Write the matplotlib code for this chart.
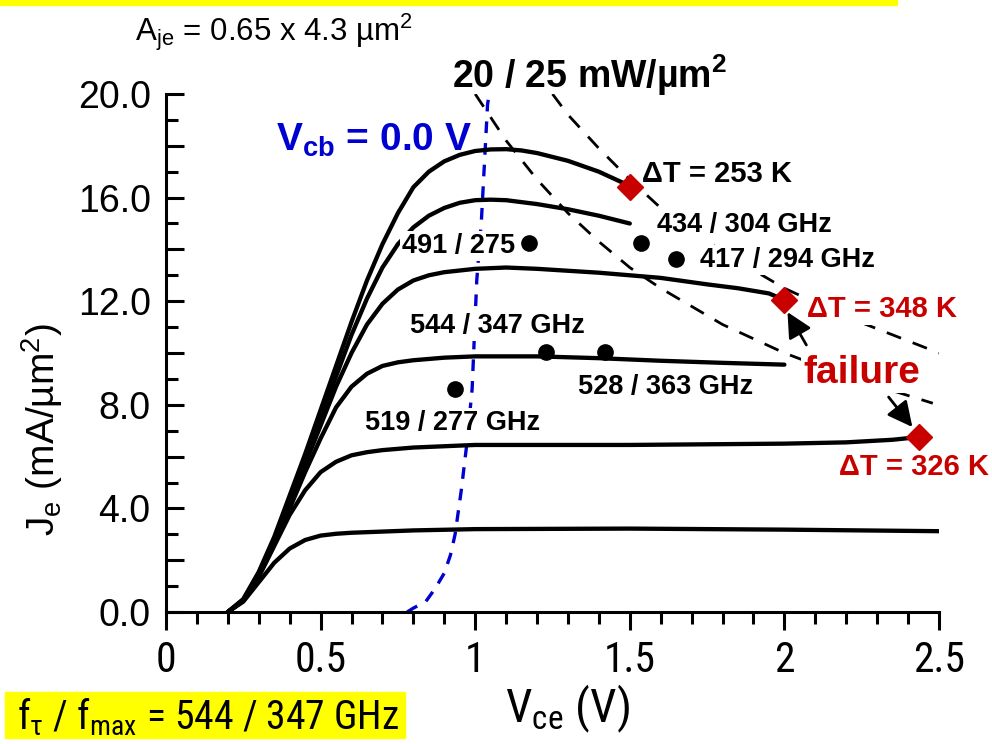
import matplotlib
matplotlib.use("Agg")
import matplotlib.pyplot as plt
from matplotlib import font_manager
from matplotlib.font_manager import FontProperties
from matplotlib.patches import Rectangle
from matplotlib.ticker import MultipleLocator, FixedLocator, FixedFormatter

# -----------------------------------
# Fonts: Arial-like plus a narrow face if one is installed
# -----------------------------------
ARIAL = "Liberation Sans"
plt.rcParams.update({
    "font.family": [ARIAL, "DejaVu Sans"],
    "mathtext.default": "regular",
})

narrow_path = None
prefs = ["Liberation Sans Narrow", "Arial Narrow", "Roboto Condensed", "Noto Sans",
         "Open Sans", "DejaVu Sans"]
cands = []
for f in font_manager.fontManager.ttflist:
    fn = f.fname.lower()
    is_narrow = ("narrow" in fn or "condensed" in fn or "narrow" in f.name.lower()
                 or "condensed" in f.name.lower() or f.stretch in ("condensed", "semi-condensed"))
    if is_narrow and "mono" not in fn and "serif" not in fn and f.style == "normal" \
            and f.weight in (400, "normal", "regular") and "light" not in fn \
            and "semi" not in fn and "extra" not in fn:
        cands.append(f)
for p in prefs:
    hit = [f for f in cands if f.name.startswith(p)]
    if hit:
        narrow_path = hit[0].fname
        break
if narrow_path is None and cands:
    narrow_path = cands[0].fname


def narrow(size):
    if narrow_path:
        return FontProperties(fname=narrow_path, size=size)
    return FontProperties(family=ARIAL, size=size * 0.85)


# -----------------------------------
# Data
# -----------------------------------
vce_1 = [0.20, 0.25, 0.30, 0.35, 0.40, 0.45, 0.50, 0.55, 0.60, 0.80, 1.00, 1.50, 2.00, 2.50]
je_1 = [0.0, 0.40, 1.15, 1.90, 2.45, 2.78, 2.95, 3.02, 3.06, 3.15, 3.20, 3.22, 3.18, 3.12]

vce_2 = [0.20, 0.25, 0.30, 0.35, 0.40, 0.45, 0.50, 0.55, 0.60, 0.65, 0.70, 0.80, 1.00, 1.50, 2.00,
         2.20, 2.35, 2.43]
je_2 = [0.0, 0.45, 1.35, 2.55, 3.75, 4.70, 5.40, 5.80, 6.05, 6.17, 6.25, 6.35, 6.45, 6.45, 6.50,
        6.55, 6.65, 6.75]

vce_3 = [0.20, 0.25, 0.30, 0.35, 0.40, 0.45, 0.50, 0.55, 0.60, 0.65, 0.70, 0.75, 0.80, 0.90, 1.00,
         1.20, 1.40, 1.60, 1.80, 2.00]
je_3 = [0.0, 0.45, 1.40, 2.60, 4.00, 5.40, 6.70, 7.90, 8.70, 9.20, 9.50, 9.64, 9.72, 9.82, 9.87,
        9.87, 9.80, 9.70, 9.62, 9.55]

vce_4 = [0.20, 0.25, 0.30, 0.35, 0.40, 0.45, 0.50, 0.55, 0.60, 0.65, 0.70, 0.75, 0.80, 0.85, 0.90,
         1.00, 1.10, 1.20, 1.40, 1.60, 1.75, 1.85, 1.95, 2.00]
je_4 = [0.0, 0.45, 1.45, 2.70, 4.20, 5.70, 7.20, 8.70, 10.0, 11.1, 11.9, 12.45, 12.8, 13.0, 13.12,
        13.25, 13.3, 13.25, 13.1, 12.9, 12.65, 12.5, 12.3, 12.05]

vce_5 = [0.20, 0.25, 0.30, 0.35, 0.40, 0.45, 0.50, 0.55, 0.60, 0.65, 0.70, 0.75, 0.80, 0.85, 0.90,
         0.95, 1.00, 1.05, 1.10, 1.20, 1.30, 1.40, 1.50]
je_5 = [0.0, 0.48, 1.50, 2.80, 4.30, 5.90, 7.50, 9.10, 10.7, 12.1, 13.3, 14.2, 14.85, 15.3, 15.6,
        15.8, 15.9, 15.92, 15.9, 15.75, 15.55, 15.3, 15.0]

vce_6 = [0.20, 0.25, 0.30, 0.35, 0.40, 0.45, 0.50, 0.55, 0.60, 0.65, 0.70, 0.75, 0.80, 0.85, 0.90,
         0.95, 1.00, 1.05, 1.10, 1.15, 1.20, 1.30, 1.40, 1.50]
je_6 = [0.0, 0.50, 1.55, 2.90, 4.50, 6.10, 7.80, 9.50, 11.2, 12.8, 14.2, 15.4, 16.4, 17.0, 17.4,
        17.65, 17.8, 17.86, 17.87, 17.82, 17.72, 17.42, 17.0, 16.45]

curves_v = [vce_1, vce_2, vce_3, vce_4, vce_5, vce_6]
curves_j = [je_1, je_2, je_3, je_4, je_5, je_6]

# Vcb = 0 V locus
vcb0_v = [0.78, 0.80, 0.84, 0.87, 0.90, 0.92, 0.935, 0.955, 0.973, 0.99, 1.005, 1.02, 1.04, 1.045]
vcb0_j = [0.0, 0.15, 0.40, 0.90, 1.50, 2.20, 3.00, 4.70, 6.50, 8.60, 12.8, 15.1, 19.6, 20.0]

# constant power density lines (20 and 25 mW/um^2)
p20_v = [1.00, 1.10, 1.20, 1.30, 1.40, 1.50, 1.60, 1.80, 2.00, 2.20, 2.48]
p20_j = [20.0, 18.2, 16.7, 15.4, 14.3, 13.3, 12.5, 11.1, 10.0, 9.1, 8.06]
p25_v = [1.25, 1.30, 1.40, 1.50, 1.60, 1.80, 2.00, 2.20, 2.50]
p25_j = [20.0, 19.2, 17.9, 16.7, 15.6, 13.9, 12.5, 11.4, 10.0]

# fT / fmax bias points
dot_v = [1.175, 1.537, 1.65, 1.23, 1.42, 0.935]
dot_j = [14.25, 14.25, 13.63, 10.04, 10.04, 8.60]

# failure points
fail_v = [1.50, 2.00, 2.434]
fail_j = [16.41, 12.05, 6.76]

RED = "#c80000"
BLUE = "#0000d0"

# -----------------------------------
# Figure
# -----------------------------------
fig = plt.figure(figsize=(9.92, 7.44), dpi=100)
ax = fig.add_axes([166 / 992, 132 / 744, 773 / 992, 518 / 744])

for v, j in zip(curves_v, curves_j):
    ax.plot(v, j, color="k", lw=3.1, solid_capstyle="round", solid_joinstyle="round", zorder=3)

ax.plot(p20_v, p20_j, color="k", lw=2.0, ls=(0, (5.5, 4.5)), zorder=2)
ax.plot(p25_v, p25_j, color="k", lw=2.0, ls=(0, (5.5, 4.5)), zorder=2)
ax.plot(vcb0_v, vcb0_j, color=BLUE, lw=2.4, ls=(0, (3.5, 3)), zorder=2)

ax.plot(dot_v, dot_j, "o", color="k", ms=11, zorder=7)
ax.plot(fail_v, fail_j, "D", color=RED, ms=13, zorder=7)

ax.set_xlim(0, 2.5)
ax.set_ylim(0, 20)

# axes style: only left and bottom spines
for s in ["top", "right"]:
    ax.spines[s].set_visible(False)
for s in ["left", "bottom"]:
    ax.spines[s].set_linewidth(2.2)

ax.set_xticks([0, 0.5, 1, 1.5, 2, 2.5], labels=["0", "0.5", "1", "1.5", "2", "2.5"],
              fontproperties=narrow(30))
ax.xaxis.set_minor_locator(MultipleLocator(0.1))
ax.tick_params(axis="x", which="major", direction="out", length=13, width=2.2, pad=7)
ax.tick_params(axis="x", which="minor", direction="out", length=8.5, width=2.2)

yt = [0, 2, 4, 6, 8, 10, 12, 14, 16, 18, 20]
ax.yaxis.set_major_locator(FixedLocator(yt))
ax.yaxis.set_major_formatter(FixedFormatter([f"{y:.1f}" if y % 4 == 0 else "" for y in yt]))
ax.yaxis.set_minor_locator(MultipleLocator(1))
ax.tick_params(axis="y", which="major", direction="in", length=13, width=2.2, pad=11, labelsize=27)
ax.tick_params(axis="y", which="minor", direction="in", length=8.5, width=2.2)


def label(x, y, s, color="k", size=19.5, ha="left"):
    ax.text(x, y, s, color=color, fontsize=size, fontweight="bold", ha=ha, va="baseline",
            bbox=dict(fc="white", ec="none", pad=1.5), zorder=5)


label(1.54, 16.6, "ΔT = 253 K", size=21)
label(1.589, 14.67, "434 / 304 GHz")
label(1.728, 13.32, "417 / 294 GHz")
label(1.129, 13.86, "491 / 275", ha="right")
label(0.79, 10.77, "544 / 347 GHz")
label(1.333, 8.42, "528 / 363 GHz")
label(0.644, 7.03, "519 / 277 GHz")
label(2.074, 11.39, "ΔT = 348 K", color=RED, size=21)
label(2.175, 5.29, "ΔT = 326 K", color=RED, size=21)
label(2.061, 8.84, "failure", color=RED, size=28)

ax.text(0.355, 17.8, "V$_{cb}$ = 0.0 V", color=BLUE, fontsize=28, fontweight="bold",
        va="baseline", zorder=5)
ax.text(0.926, 20.23, "20 / 25 mW/µm$^{2}$", color="k", fontsize=27, fontweight="bold",
        va="baseline", clip_on=False)

arrow = dict(arrowstyle="-|>,head_length=0.9,head_width=0.45", color="k", lw=2,
             shrinkA=0, shrinkB=0, mutation_scale=17)
ax.annotate("", xy=(2.01, 11.58), xytext=(2.071, 10.31), arrowprops=arrow, zorder=6)
ax.annotate("", xy=(2.414, 7.14), xytext=(2.337, 8.30), arrowprops=arrow, zorder=6)

# axis titles and side notes
fig.text(42 / 992, (744 - 430) / 744, "J$_{e}$ (mA/µm$^{2}$)", rotation=90, ha="center",
         va="center", fontsize=28)
fig.text(567 / 992, (744 - 722) / 744, "V$_{ce}$ (V)", ha="center", va="baseline",
         fontproperties=narrow(34))
fig.text(135 / 992, (744 - 41) / 744, "A$_{je}$ = 0.65 x 4.3 µm$^{2}$", ha="left",
         va="baseline", fontsize=22.5)

# yellow highlight boxes
fig.patches.append(Rectangle((0, 739 / 744), 897 / 992, 5 / 744, color="#ffff00",
                             transform=fig.transFigure, zorder=0))
fig.patches.append(Rectangle((5 / 992, 6 / 744), 400 / 992, 46 / 744, color="#ffff00",
                             transform=fig.transFigure, zorder=0))
fig.text(17 / 992, (744 - 729) / 744, "f$_{τ}$ / f$_{max}$ = 544 / 347 GHz", ha="left",
         va="baseline", fontproperties=narrow(28.5))

plt.savefig("out.png", dpi=100)
